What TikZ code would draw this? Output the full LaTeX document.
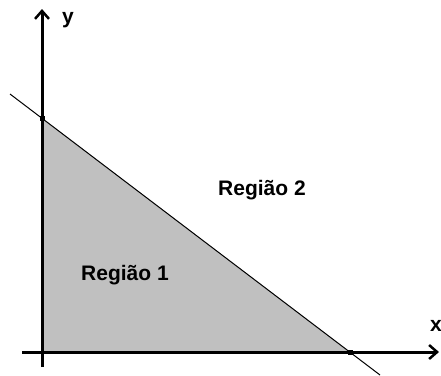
\documentclass[tikz,border=0pt]{standalone}
\usepackage{fontspec}
\setmainfont{Liberation Sans}
\usetikzlibrary{arrows.meta}
\tikzset{
  axis/.style={line width=3pt,-{Straight Barb[length=8pt,width=14pt,line width=2.5pt]}},
  lbl/.style={font=\fontsize{21}{25}\selectfont\bfseries,inner sep=0pt},
  dot/.style={fill=black,minimum size=5pt,inner sep=0pt},
}
\begin{document}
\begin{tikzpicture}[x=1pt,y=-1pt]
\useasboundingbox[fill=white] (0,0) rectangle (441,375);
\coordinate (O) at (42,352);
\coordinate (A) at (42,118);
\coordinate (B) at (350,352);
\coordinate (L0) at (10,94);
\coordinate (L1) at (380,375);
\coordinate (xs) at (22,352);
\coordinate (xe) at (439,352);
\coordinate (ys) at (42,367);
\coordinate (ye) at (42,9);
\fill[fill={rgb,255:red,192;green,192;blue,192}] (O) -- (A) -- (B) -- cycle;
\draw[line width=1pt] (L0) -- (L1);
\draw[axis] (xs) -- (xe);
\draw[axis] (ys) -- (ye);
\node[dot] (dA) at (A) {};
\node[dot] (dB) at (B) {};
\node[lbl] (ly) at (68,20) {y};
\node[lbl] (lx) at (436,326) {x};
\node[lbl] (r2) at (262,190) {Região 2};
\node[lbl] (r1) at (125,275) {Região 1};
\end{tikzpicture}
\end{document}
